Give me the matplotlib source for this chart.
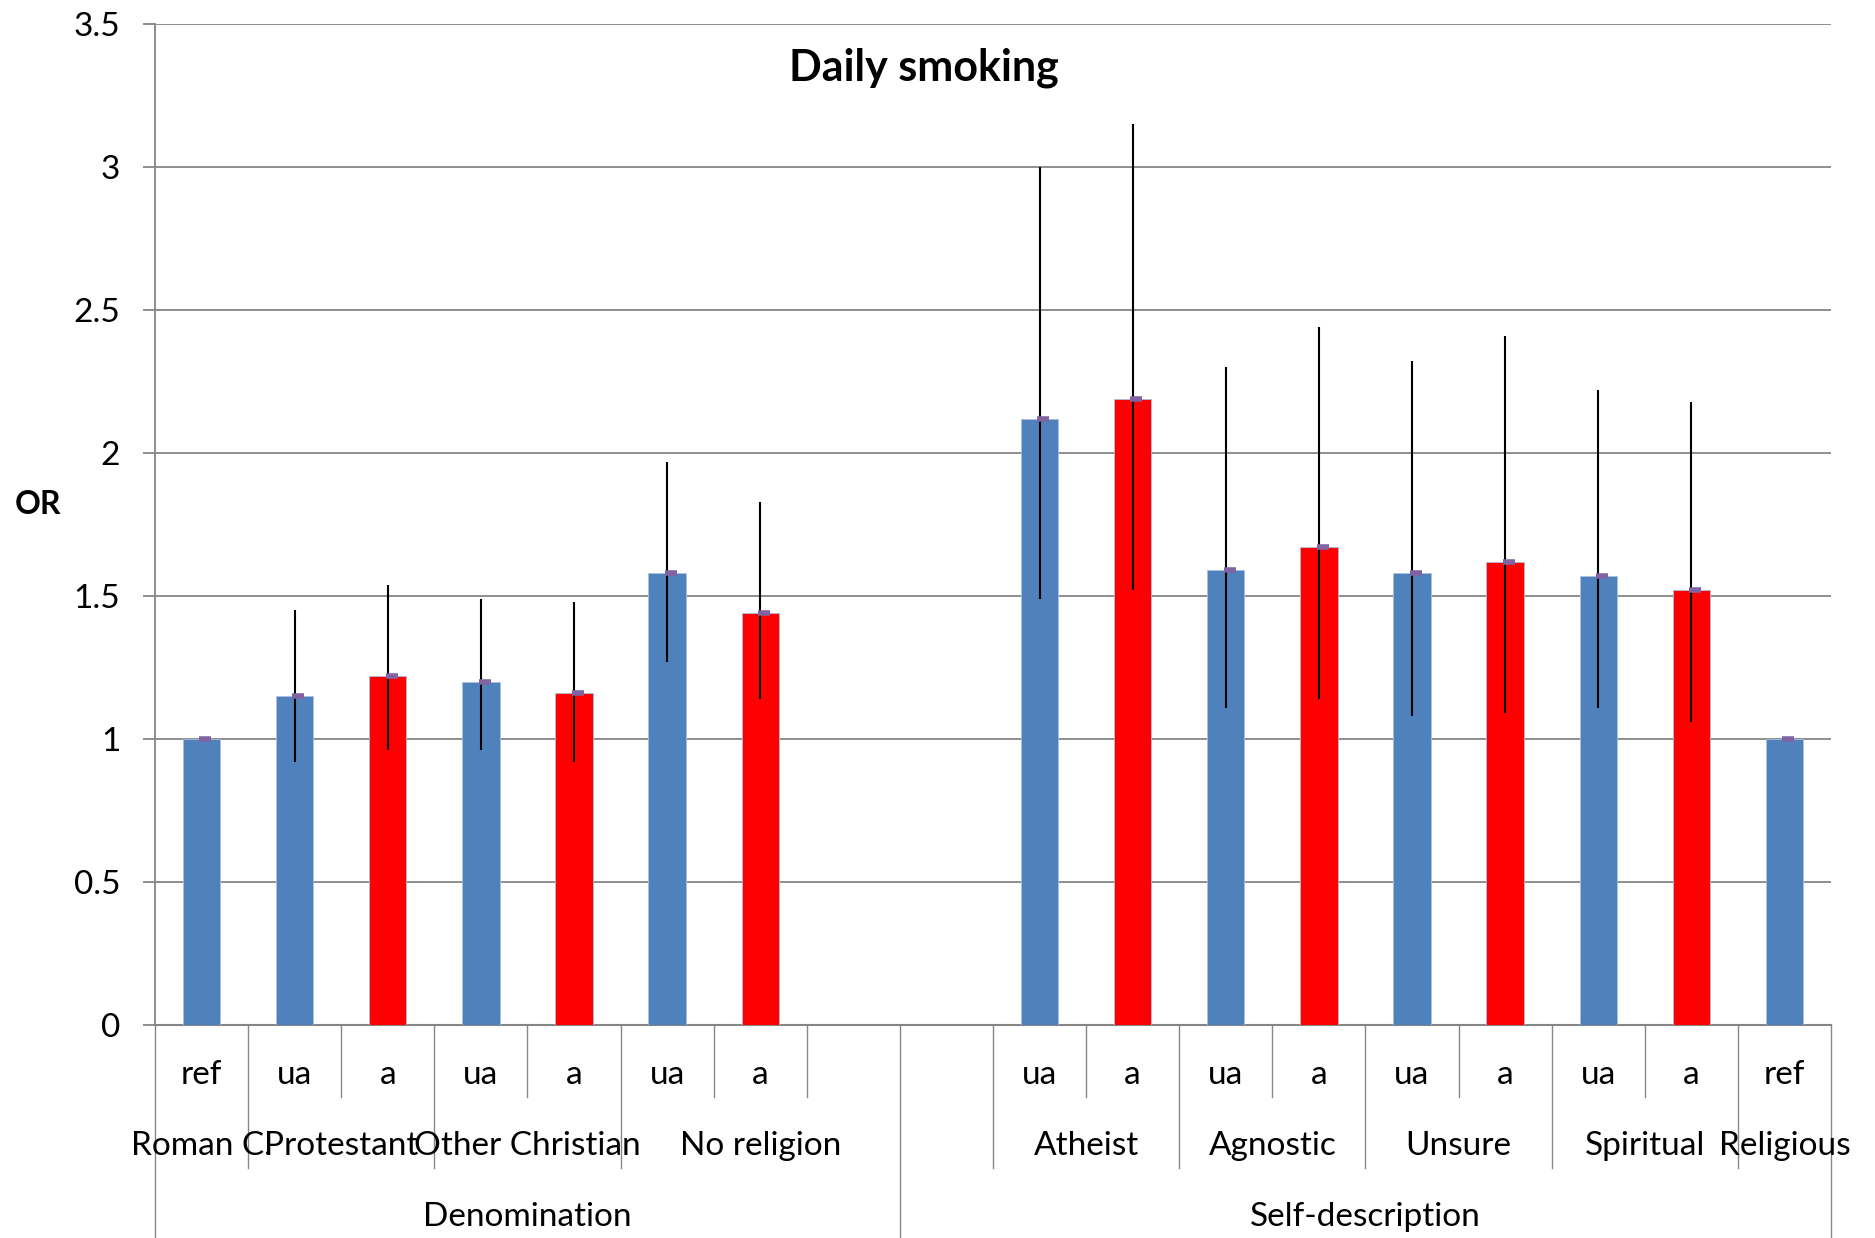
import numpy as np
import matplotlib
matplotlib.use("Agg")
import matplotlib.pyplot as plt

plt.rcParams['font.family'] = ['Lato', 'DejaVu Sans']

# category slots (18 slots, two empty as in the original sheet)
slot_labels = ['ref', 'ua', 'a', 'ua', 'a', 'ua', 'a', '',
               '', 'ua', 'a', 'ua', 'a', 'ua', 'a', 'ua', 'a', 'ref']
odds = [1.00, 1.15, 1.22, 1.20, 1.16, 1.58, 1.44, np.nan,
        np.nan, 2.12, 2.19, 1.59, 1.67, 1.58, 1.62, 1.57, 1.52, 1.00]
ci_low = [np.nan, 0.92, 0.96, 0.96, 0.92, 1.27, 1.14, np.nan,
          np.nan, 1.49, 1.52, 1.11, 1.14, 1.08, 1.09, 1.11, 1.06, np.nan]
ci_high = [np.nan, 1.45, 1.54, 1.49, 1.48, 1.97, 1.83, np.nan,
           np.nan, 3.00, 3.15, 2.30, 2.44, 2.32, 2.41, 2.22, 2.18, np.nan]

group_names = ['Roman C.', 'Protestant', 'Other Christian', 'No religion', '',
               'Atheist', 'Agnostic', 'Unsure', 'Spiritual', 'Religious']
group_sizes = [1, 2, 2, 3, 1, 2, 2, 2, 2, 1]
top_names = ['Denomination', 'Self-description']
top_sizes = [8, 10]

blue = '#4F81BD'
red = '#FF0000'
grey = '#868686'
fs = 24

W, H = 1875, 1238
fig = plt.figure(figsize=(W / 100, H / 100), dpi=100)
# plot area in pixels: x 155..1831, y 24..1025
ax = fig.add_axes([155 / W, 1 - 1025 / H, (1831 - 155) / W, (1025 - 24) / H])

n = len(slot_labels)
x = np.arange(n) + 0.5
colors = [red if s == 'a' else blue for s in slot_labels]
odds = np.array(odds)
ci_low = np.array(ci_low)
ci_high = np.array(ci_high)

ax.bar(x, np.nan_to_num(odds), width=0.4, color=colors, edgecolor='#A9C0DE',
       linewidth=0.6, zorder=3)
ax.vlines(x, ci_low, ci_high, color='black', lw=1.5, zorder=4)
ax.plot(x + 0.04, odds, ls='', marker='_', ms=9, mew=4, color='#8064A2', zorder=5)

ax.set_xlim(0, n)
ax.set_ylim(0, 3.5)
ax.set_yticks([0, 0.5, 1, 1.5, 2, 2.5, 3, 3.5])
ax.set_yticklabels(['0', '0.5', '1', '1.5', '2', '2.5', '3', '3.5'])
ax.yaxis.grid(True, color=grey, lw=1.3, zorder=0)
ax.set_axisbelow(True)
ax.tick_params(axis='y', length=9, width=1.3, color=grey, pad=16, labelsize=fs)
ax.tick_params(axis='x', bottom=False, labelbottom=False)
for side in ['top', 'right']:
    ax.spines[side].set_visible(False)
ax.spines['left'].set_color(grey)
ax.spines['left'].set_linewidth(1.3)
ax.spines['bottom'].set_color(grey)
ax.spines['bottom'].set_linewidth(1.5)


def yax(py):
    # pixel row -> axes fraction
    return (1025 - py) / (1025 - 24)


row_bottoms = [yax(1097), yax(1168), yax(1240)]
row_text = [yax(1075), yax(1146), yax(1217)]
trans = ax.get_xaxis_transform()

# level of each boundary: 0 = slot, 1 = group, 2 = top group
level = [0] * (n + 1)
pos = 0
for s in group_sizes:
    pos += s
    level[pos] = 1
pos = 0
for s in top_sizes:
    pos += s
    level[pos] = 2
level[0] = 2
level[n] = 2
for b in range(n + 1):
    ax.plot([b, b], [0, row_bottoms[level[b]]], transform=trans, color=grey,
            lw=1.0, clip_on=False)

for i, s in enumerate(slot_labels):
    ax.text(x[i], row_text[0], s, transform=trans, ha='center', va='center',
            fontsize=fs)

pos = 0
for name, s in zip(group_names, group_sizes):
    ax.text(pos + s / 2, row_text[1], name, transform=trans, ha='center',
            va='center', fontsize=fs)
    pos += s

pos = 0
for name, s in zip(top_names, top_sizes):
    ax.text(pos + s / 2, row_text[2], name, transform=trans, ha='center',
            va='center', fontsize=fs)
    pos += s

fig.text(924 / W, 1 - 68 / H, 'Daily smoking', ha='center', va='center',
         fontsize=31, fontweight='bold')
fig.text(38 / W, 1 - 504 / H, 'OR', ha='center', va='center',
         fontsize=23, fontweight='bold')

fig.savefig('out.png', dpi=100)
